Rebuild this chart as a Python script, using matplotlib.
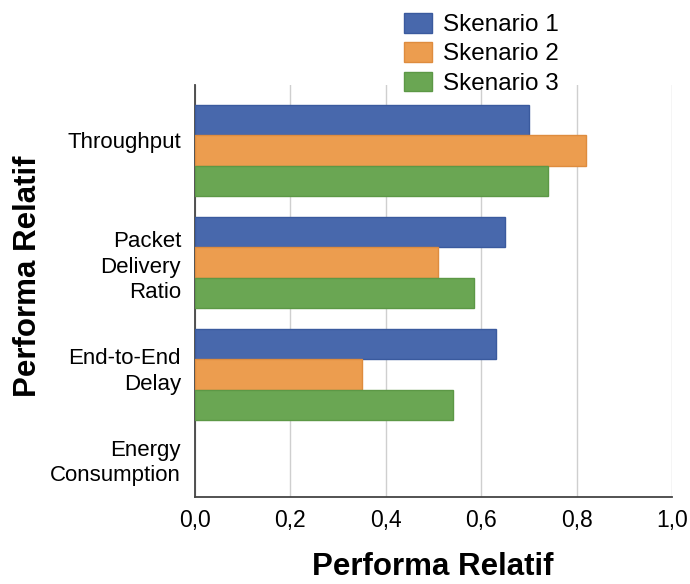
import numpy as np
import matplotlib.pyplot as plt

plt.rcParams['font.family'] = ['Liberation Sans', 'DejaVu Sans']

# Data
categories = ['Throughput', 'Packet\nDelivery\nRatio', 'End-to-End\nDelay', 'Energy\nConsumption']
series_names = ['Skenario 1', 'Skenario 2', 'Skenario 3']
skenario_1 = [0.70, 0.65, 0.63, np.nan]
skenario_2 = [0.82, 0.51, 0.35, np.nan]
skenario_3 = [0.74, 0.585, 0.54, np.nan]
x_ticks = [0.0, 0.2, 0.4, 0.6, 0.8, 1.0]
x_tick_labels = ['0,0', '0,2', '0,4', '0,6', '0,8', '1,0']

colors = ['#4868AC', '#EC9D4F', '#6AA653']
edges = ['#3A5A9E', '#DE8C3E', '#5C9846']

fig = plt.figure(figsize=(6.9, 5.84), dpi=100)
ax = fig.add_axes([0.2826, 0.149, 0.6913, 0.7055])

y = np.arange(len(categories))
bar_h = 0.27
offsets = [-0.275, 0.0, 0.275]
for vals, name, c, ec, off in zip([skenario_1, skenario_2, skenario_3],
                                  series_names, colors, edges, offsets):
    ax.barh(y + off, vals, height=bar_h, color=c, edgecolor=ec,
            linewidth=1, label=name, zorder=3)

ax.set_xlim(0, 1.0)
ax.set_ylim(3.094, -0.585)

ax.set_xticks(x_ticks)
ax.set_xticklabels(x_tick_labels, fontsize=16.5)
# labels sit a little above the bar group centres in the original
label_pos = y + np.array([-0.09, 0.0, -0.07, -0.25])
ax.set_yticks(label_pos)
ax.set_yticklabels(categories, fontsize=16, linespacing=1.28)
ax.tick_params(axis='both', length=0)
ax.tick_params(axis='x', pad=9)
ax.tick_params(axis='y', pad=10)

ax.grid(axis='x', color='#cfcfcf', linewidth=1, zorder=0)
ax.spines['top'].set_visible(False)
ax.spines['right'].set_visible(False)
ax.spines['left'].set_color('#444444')
ax.spines['bottom'].set_color('#444444')
ax.spines['left'].set_linewidth(1.3)
ax.spines['bottom'].set_linewidth(1.3)

fig.text(433 / 690, 1 - 567 / 584, 'Performa Relatif', fontsize=22.5,
         fontweight='bold', ha='center', va='center')
fig.text(28 / 690, 1 - 276 / 584, 'Performa Relatif', fontsize=22.5,
         fontweight='bold', ha='center', va='center', rotation=90)

fig.legend(loc='upper left', bbox_to_anchor=(392 / 690, 1 - 1 / 584),
           frameon=False, fontsize=17.5, borderpad=0, handlelength=1.15,
           handleheight=0.85, handletextpad=0.45, labelspacing=0.25)

fig.savefig('out.png', dpi=100)
